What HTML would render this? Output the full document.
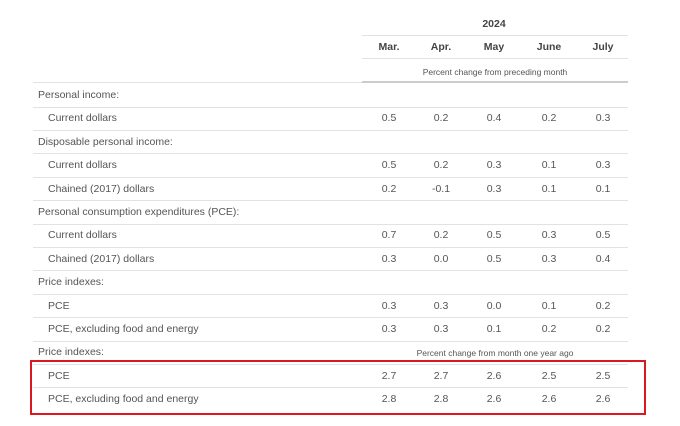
<!DOCTYPE html>
<html><head><meta charset="utf-8"><style>
body{margin:0;width:680px;height:426px;background:#fff;font-family:"Liberation Sans",sans-serif;color:#555;position:relative;overflow:hidden}
.t{position:absolute;font-size:10.5px;line-height:12px;white-space:nowrap}
.c{text-align:center;width:50px;margin-left:-25px}
.ln{position:absolute;height:1px;background:#e2e2e2}
</style></head><body>
<div class="t c" style="left:494px;top:18px;font-weight:bold;color:#444">2024</div>
<div class="ln" style="left:362px;width:266px;top:35px"></div>
<div class="ln" style="left:362px;width:266px;top:58px"></div>
<div class="t" style="left:362px;width:266px;text-align:center;top:66px;font-size:8.5px">Percent change from preceding month</div>
<div class="ln" style="left:362px;width:266px;top:81px;height:2px;background:#ccc"></div>
<div class="ln" style="left:33px;width:329px;top:82px"></div>
<div style="position:absolute;left:30px;top:360px;width:612px;height:51px;border:2px solid #d9181f"></div>
<script>
const months=["Mar.","Apr.","May","June","July"];
const labels=["Personal income:","Current dollars","Disposable personal income:","Current dollars","Chained (2017) dollars","Personal consumption expenditures (PCE):","Current dollars","Chained (2017) dollars","Price indexes:","PCE","PCE, excluding food and energy","Price indexes:","PCE","PCE, excluding food and energy"];
const indent=[0,1,0,1,1,0,1,1,0,1,1,0,1,1];
const values=[null,["0.5","0.2","0.4","0.2","0.3"],null,["0.5","0.2","0.3","0.1","0.3"],["0.2","-0.1","0.3","0.1","0.1"],null,["0.7","0.2","0.5","0.3","0.5"],["0.3","0.0","0.5","0.3","0.4"],null,["0.3","0.3","0.0","0.1","0.2"],["0.3","0.3","0.1","0.2","0.2"],null,["2.7","2.7","2.6","2.5","2.5"],["2.8","2.8","2.6","2.6","2.6"]];
const colX=[389,441,494,549,603];
const root=document.body;
months.forEach((m,i)=>{const d=document.createElement('div');d.className='t c';


d.style.left=colX[i]+'px';d.style.top='41px';d.style.fontWeight='bold';d.style.color='#444';d.textContent=m;root.appendChild(d);});
labels.forEach((l,r)=>{const y=95+r*23.4;
const d=document.createElement('div');d.className='t';


d.style.left=(indent[r]?48:38)+'px';d.style.top=(y-6)+'px';d.textContent=l;root.appendChild(d);
if(values[r])values[r].forEach((v,i)=>{const e=document.createElement('div');e.className='t c';


e.style.left=colX[i]+'px';e.style.top=(y-6)+'px';e.textContent=v;root.appendChild(e);});
if(r<labels.length-1){const ln=document.createElement('div');ln.className='ln';


ln.style.left='33px';ln.style.width='595px';ln.style.top=Math.round(y+11.5)+'px';root.appendChild(ln);}
});
const s=document.createElement('div');s.className='t';


s.style.left='362px';s.style.width='266px';s.style.textAlign='center';s.style.top=(95+11*23.4-5)+'px';s.style.fontSize='8.5px';s.textContent='Percent change from month one year ago';root.appendChild(s);
</script>
</body></html>
